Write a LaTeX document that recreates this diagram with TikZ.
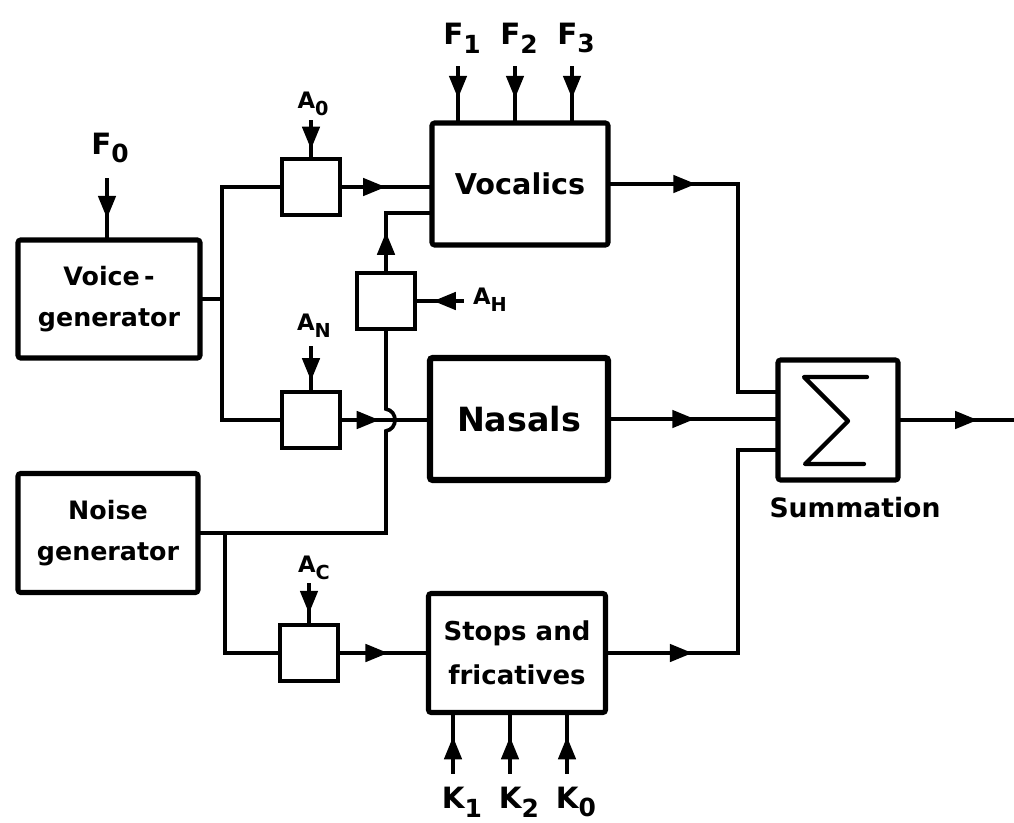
\documentclass[tikz,border=0pt]{standalone}
\usepackage{fontspec}
\usepackage{graphicx}
\setmainfont{DejaVu Sans}
\usetikzlibrary{arrows.meta,decorations.markings,calc}
\newcommand{\sbs}[1]{\raisebox{-0.3em}{\scalebox{0.85}{#1}}}
\begin{document}
\begin{tikzpicture}[x=0.75pt,y=-0.75pt,
 box/.style={draw, line width=3.8pt, rounded corners=2pt, align=center, inner sep=0pt},
 sbox/.style={draw, line width=3pt, minimum width=43.5pt, minimum height=42pt, inner sep=0pt},
 sz/.style 2 args={minimum width=#1*0.75pt, minimum height=#2*0.75pt},
 conn/.style={line width=2.8pt, line cap=rect},
 midarr/.style={conn, postaction={decorate}, decoration={markings, mark=at position #1 with {\arrow{Triangle[length=17pt,width=13pt]}}}},
 lab/.style={font=\fontsize{22}{22}\selectfont\bfseries, inner sep=0pt},
 slab/.style={font=\fontsize{17}{17}\selectfont\bfseries, inner sep=0pt},
]
\useasboundingbox (0,0) rectangle (1014,822);
% main boxes
\node[box, sz={182}{118}, font=\fontsize{19}{31}\selectfont\bfseries] (voice) at (109,299) {Voice\,-\\generator};
\node[box, sz={180}{119}, font=\fontsize{19}{31}\selectfont\bfseries] (noise) at (108,533) {Noise\\generator};
\node[box, sz={176}{122}, font=\fontsize{21.5}{26}\selectfont\bfseries] (voc) at (520,184) {Vocalics};
\node[box, sz={178}{122}, line width=4.6pt, font=\fontsize{25}{30}\selectfont\bfseries] (nas) at (519,419) {Nasals};
\node[box, sz={177}{119}, font=\fontsize{19.5}{33}\selectfont\bfseries] (stops) at (517,653) {Stops and\\fricatives};
\node[box, sz={120}{120}] (sum) at (838,420) {};
\node[font=\fontsize{20}{24}\selectfont\bfseries, inner sep=0pt] (sumlab) at (855,508) {Summation};
% small boxes
\node[sbox] (a0) at (311,187) {};
\node[sbox] (an) at (311,420) {};
\node[sbox] (ac) at (309,653) {};
\node[sbox] (ah) at (386,301) {};
% sigma
\draw[line width=3.2pt, line join=round, line cap=round] (867,377) -- (804,377) -- (848,421) -- (805,464) -- (864,464);
% voice generator connections
\coordinate (vj) at (222,299);
\draw[conn] (voice.east) -- (vj);
\draw[conn] (a0.west) -| (vj) |- (an.west);
\draw[midarr=0.5] (a0.east) -- (a0.east -| voc.west);
\draw[midarr=0.44] (an.east) -- (an.east -| nas.west);
\draw[midarr=0.56] (ac.east) -- (ac.east -| stops.west);
% A_H path to vocalics
\coordinate (ahtop) at (386,213);
\draw[midarr=0.67] (ah.north) -- (ahtop);
\draw[conn] (ahtop) -- (ahtop -| voc.west);
% noise generator
\coordinate (nj) at (225,533);
\coordinate (nk) at (386,533);
\draw[conn] (noise.east) -- (nk) -- (386,431) .. controls (398,429) and (398,411) .. (386,409) -- (ah.south);
\draw[conn] (nj) |- (ac.west);
% to summation
\coordinate (c1) at (738,184);
\draw[midarr=0.67] (voc.east) -- (c1);
\draw[conn] (c1) |- ($(sum.west)+(0,-28)$);
\draw[midarr=0.51] (nas.east) -- (nas.east -| sum.west);
\coordinate (c3) at (738,653);
\draw[midarr=0.65] (stops.east) -- (c3);
\draw[conn] (c3) |- ($(sum.west)+(0,30)$);
\coordinate (out) at (1014,420);
\draw[midarr=0.68] (sum.east) -- (out);
% F labels
\node[lab] (f0) at (110,148) {F\sbs{0}};
\coordinate (f0s) at (107,180);
\draw[midarr=0.67] (f0s) -- (f0s |- voice.north);
\node[lab] (f1) at (462,38) {F\sbs{1}};
\node[lab] (f2) at (519,38) {F\sbs{2}};
\node[lab] (f3) at (576,38) {F\sbs{3}};
\coordinate (f1s) at (458,68);
\coordinate (f2s) at (515,68);
\coordinate (f3s) at (572,68);
\draw[midarr=0.58] (f1s) -- (f1s |- voc.north);
\draw[midarr=0.58] (f2s) -- (f2s |- voc.north);
\draw[midarr=0.58] (f3s) -- (f3s |- voc.north);
% K labels
\node[lab] (k1) at (462,802) {K\sbs{1}};
\node[lab] (k2) at (519,802) {K\sbs{2}};
\node[lab] (k0) at (576,802) {K\sbs{0}};
\coordinate (k1s) at (453,772);
\coordinate (k2s) at (510,772);
\coordinate (k0s) at (567,772);
\draw[midarr=0.62] (k1s) -- (k1s |- stops.south);
\draw[midarr=0.62] (k2s) -- (k2s |- stops.south);
\draw[midarr=0.62] (k0s) -- (k0s |- stops.south);
% A labels
\node[slab] (a0l) at (313,104) {A\sbs{0}};
\coordinate (a0s) at (311,122);
\draw[midarr=0.78] (a0s) -- (a0.north);
\node[slab] (anl) at (314,326) {A\sbs{N}};
\coordinate (ans) at (311,348);
\draw[midarr=0.78] (ans) -- (an.north);
\node[slab] (acl) at (314,568) {A\sbs{C}};
\coordinate (acs) at (309,585);
\draw[midarr=0.75] (acs) -- (ac.north);
\node[slab] (ahl) at (490,300) {A\sbs{H}};
\coordinate (ahs) at (462,301);
\draw[midarr=0.64] (ahs) -- (ah.east);
\end{tikzpicture}
\end{document}
